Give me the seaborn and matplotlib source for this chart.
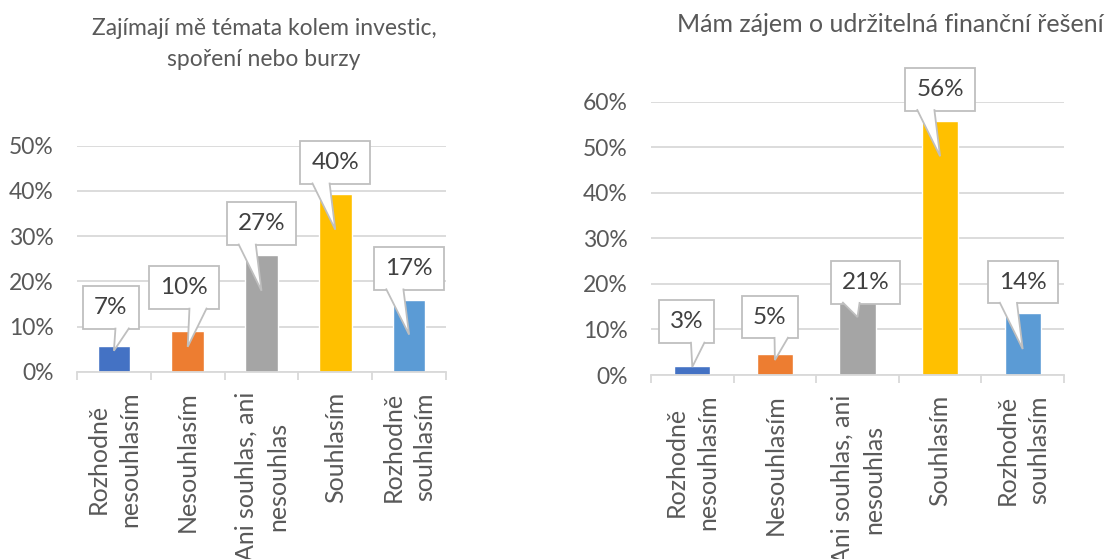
import matplotlib
matplotlib.use("Agg")
import matplotlib.pyplot as plt
import seaborn as sns
import pandas as pd
from matplotlib.patches import Polygon
from matplotlib.transforms import IdentityTransform
from matplotlib.ticker import FuncFormatter


categories = ["Rozhodně\nnesouhlasím", "Nesouhlasím", "Ani souhlas, ani\nnesouhlas",
              "Souhlasím", "Rozhodně\nsouhlasím"]
colors = ["#4472C4", "#ED7D31", "#A5A5A5", "#FFC000", "#5B9BD5"]

invest_title = "Zajímají mě témata kolem investic,\nspoření nebo burzy"
invest_values = [5.8, 9.1, 25.9, 39.4, 16.0]
invest_labels = ["7%", "10%", "27%", "40%", "17%"]

green_title = "Mám zájem o udržitelná finanční řešení"
green_values = [2.0, 4.6, 20.4, 55.7, 13.6]
green_labels = ["3%", "5%", "21%", "56%", "14%"]

# callout layout in pixels, relative to the bar top: box lift, tip drop, box shift
invest_callouts = dict(lift=[38, 43, 31, 31, 31], drop=[5, 16, 36, 36, 35], dx=[-3, -4, 0, 0, 0])
green_callouts = dict(lift=[44, 37, 0, 32, 31], drop=[1, 6, 35, 35, 36], dx=[-6, -5, 8, 0, 0])

sns.set_theme(style="white")
plt.rcParams['font.family'] = ['Lato', 'DejaVu Sans']

GRID = "#d9d9d9"
TEXT = "#595959"
fig = plt.figure(figsize=(11.09, 5.59), dpi=100)
ax1 = fig.add_axes([77 / 1109, 1 - 372 / 559, 369 / 1109, 226.3 / 559])
ax2 = fig.add_axes([651 / 1109, 1 - 375 / 559, 413 / 1109, 273.3 / 559])


def draw_panel(ax, values, ymax):
    df = pd.DataFrame({"cat": categories, "val": values})
    sns.barplot(data=df, x="cat", y="val", hue="cat", palette=colors, width=0.44,
                saturation=1, legend=False, ax=ax)
    ax.set_xlim(-0.5, 4.5)
    ax.set_ylim(0, ymax)
    ax.set_yticks(range(0, ymax + 1, 10))
    ax.yaxis.set_major_formatter(FuncFormatter(lambda v, p: f"{v:.0f}%"))
    ax.grid(axis="y", color=GRID, lw=1.3)
    ax.set_axisbelow(True)
    for s in ["top", "right", "left"]:
        ax.spines[s].set_visible(False)
    ax.spines["bottom"].set_color(GRID)
    ax.spines["bottom"].set_linewidth(1.3)
    ax.set_xlabel("")
    ax.set_ylabel("")
    ax.tick_params(axis="y", length=0, pad=17, labelsize=16.5, labelcolor=TEXT)
    ax.set_xticks(range(5))
    ax.set_xticklabels(categories, rotation=90, va="top", ha="center")
    for lbl in ax.get_xticklabels():
        lbl.set_multialignment("center")
        lbl.set_linespacing(1.45)
    ax.set_xticks([x - 0.5 for x in range(6)], minor=True)
    ax.tick_params(axis="x", which="major", length=0, pad=14, labelsize=18, labelcolor=TEXT)
    ax.tick_params(axis="x", which="minor", length=6, width=1.3, color=GRID, direction="out")
    ax.xaxis.set_ticks_position("bottom")


def add_callouts(ax, values, labels, layout):
    texts = []
    for i, (v, lab) in enumerate(zip(values, labels)):
        t = ax.annotate(lab, xy=(i, v), xycoords="data",
                        xytext=(layout["dx"][i], layout["lift"][i]), textcoords="offset pixels",
                        ha="center", va="center", fontsize=17.5, color="#404040", zorder=6,
                        bbox=dict(boxstyle="square,pad=0.45", fc="white", ec="#bfbfbf", lw=1.3))
        texts.append(t)
    return texts


draw_panel(ax1, invest_values, 50)
draw_panel(ax2, green_values, 60)
t1 = add_callouts(ax1, invest_values, invest_labels, invest_callouts)
t2 = add_callouts(ax2, green_values, green_labels, green_callouts)

fig.text(264 / 1109, 1 - 44 / 559, invest_title, ha="center", va="center",
         fontsize=16.5, color=TEXT, linespacing=1.55)
fig.text(677 / 1109, 1 - 24 / 559, green_title, ha="left", va="center",
         fontsize=18, color=TEXT)

fig.canvas.draw()
renderer = fig.canvas.get_renderer()
for ax, texts, values, layout in [(ax1, t1, invest_values, invest_callouts),
                                  (ax2, t2, green_values, green_callouts)]:
    for i, t in enumerate(texts):
        bb = t.get_bbox_patch().get_window_extent(renderer)
        tip_x, tip_y = ax.transData.transform((i, values[i]))
        tip_y -= layout["drop"][i]
        cx = (bb.x0 + bb.x1) / 2
        w = bb.width
        if tip_x > cx + 1:
            b0, b1 = bb.x0 + w * 7 / 12, bb.x0 + w * 10 / 12
        else:
            b0, b1 = bb.x0 + w * 2 / 12, bb.x0 + w * 5 / 12
        yb = bb.y0 + 1.5
        wedge = Polygon([(b0, yb), (tip_x, tip_y), (b1, yb)], closed=False,
                        transform=IdentityTransform(), fc="white", ec="#bfbfbf",
                        lw=1.3, zorder=7, clip_on=False)
        fig.add_artist(wedge)

fig.savefig("out.png", dpi=100)
